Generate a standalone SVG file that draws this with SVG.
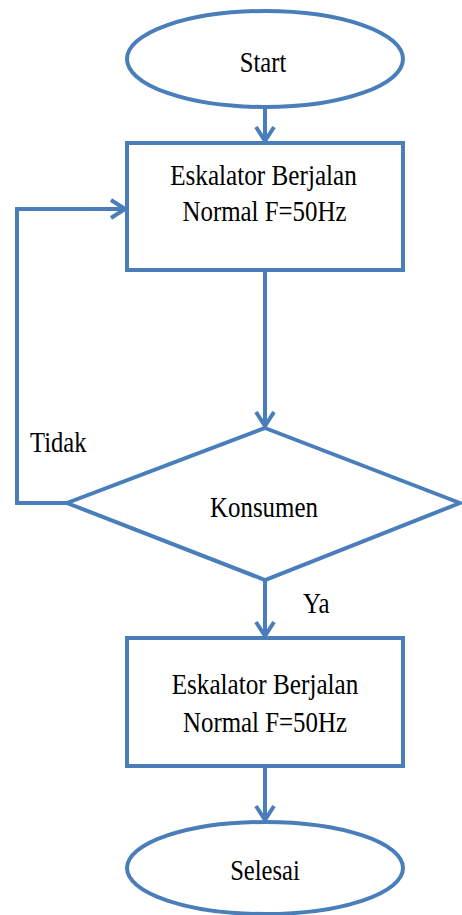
<svg xmlns="http://www.w3.org/2000/svg" width="462" height="915" viewBox="0 0 462 915">
<style>
.shape{fill:#fff;stroke:#4A7EBB;stroke-width:4}
.conn{fill:none;stroke:#4A7EBB;stroke-width:4}
.t{text-anchor:middle}
</style>
<defs>
<marker id="arr" markerUnits="userSpaceOnUse" markerWidth="20" markerHeight="22" viewBox="0 0 20 22" refX="17" refY="11" orient="auto">
<path d="M3,2 L17,11 L3,20" fill="none" stroke="#4A7EBB" stroke-width="4" stroke-linejoin="miter"/>
</marker>
</defs>
<rect width="462" height="915" fill="#fff"/>
<g id="connectors">
<line class="conn" x1="265" y1="107" x2="265" y2="141" marker-end="url(#arr)"/>
<line class="conn" x1="265" y1="271" x2="265" y2="426" marker-end="url(#arr)"/>
<path class="conn" d="M67,503 L17,503 L17,209 L125,209" marker-end="url(#arr)"/>
<line class="conn" x1="265" y1="580" x2="265" y2="636" marker-end="url(#arr)"/>
<line class="conn" x1="265" y1="767" x2="265" y2="820" marker-end="url(#arr)"/>
</g>
<g font-family="Liberation Serif, serif" font-size="30" fill="#000">
<g id="start">
<ellipse class="shape" cx="265" cy="59" rx="138" ry="48"/>
<text class="t" transform="translate(263,72) scale(0.82,1)">Start</text>
</g>
<g id="process1">
<rect class="shape" x="127" y="143" width="276" height="127"/>
<text class="t" transform="translate(263.5,185) scale(0.84,1)">Eskalator Berjalan</text>
<text class="t" transform="translate(264.5,221) scale(0.83,1)">Normal F=50Hz</text>
</g>
<g id="decision">
<polygon class="shape" points="265,428 460,503 265,580 67,503"/>
<text class="t" transform="translate(264,517) scale(0.83,1)">Konsumen</text>
</g>
<g id="labels">
<text transform="translate(30,452) scale(0.82,1)">Tidak</text>
<text transform="translate(303,613) scale(0.83,1)">Ya</text>
</g>
<g id="process2">
<rect class="shape" x="127" y="638" width="276" height="128"/>
<text class="t" transform="translate(265,694) scale(0.84,1)">Eskalator Berjalan</text>
<text class="t" transform="translate(265,732) scale(0.83,1)">Normal F=50Hz</text>
</g>
<g id="end">
<ellipse class="shape" cx="265" cy="868" rx="138" ry="46"/>
<text class="t" transform="translate(265,880) scale(0.82,1)">Selesai</text>
</g>
</g>
</svg>
